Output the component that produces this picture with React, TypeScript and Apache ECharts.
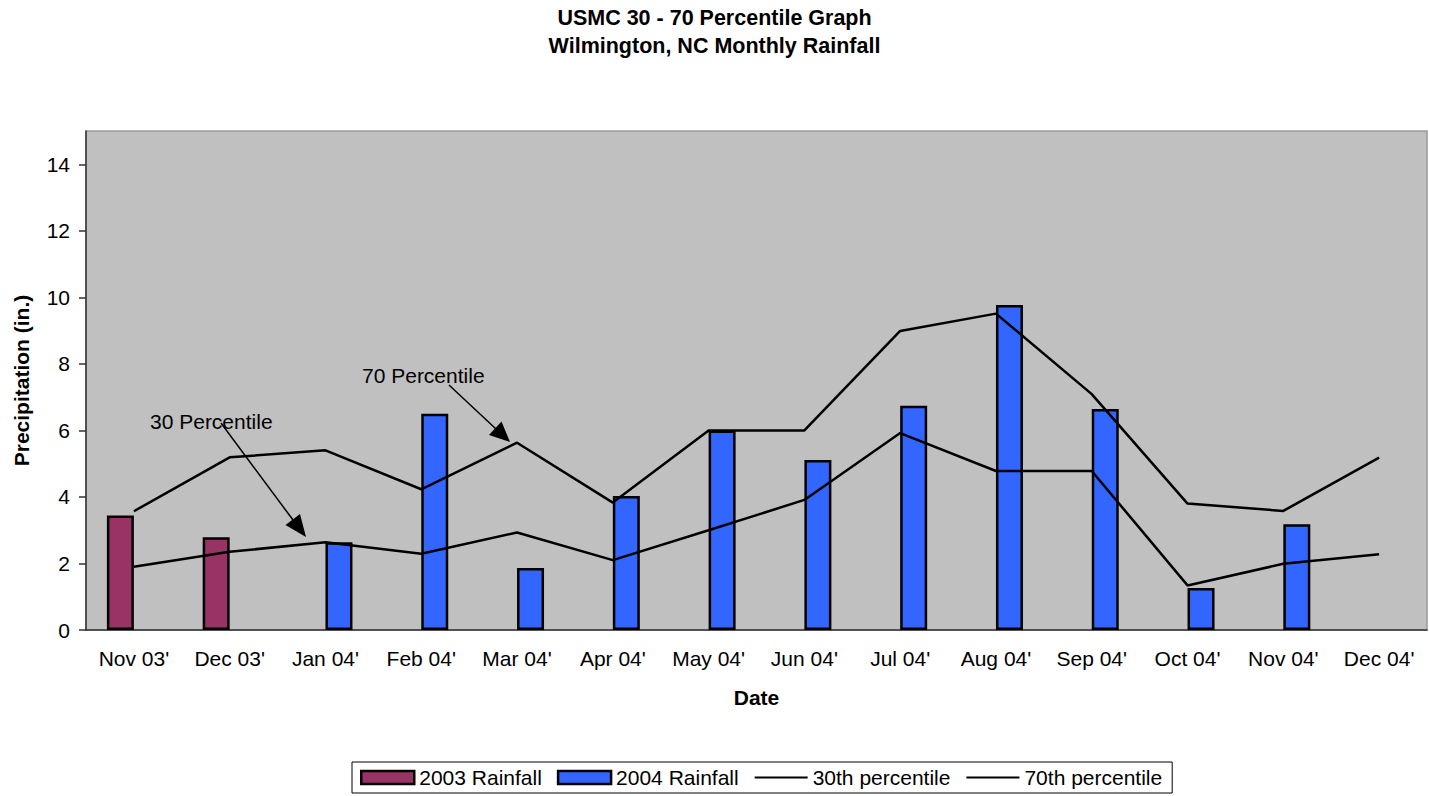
import React, { useEffect, useRef } from "react";
import * as echarts from "echarts";

const categories = [
  "Nov 03'", "Dec 03'", "Jan 04'", "Feb 04'", "Mar 04'", "Apr 04'", "May 04'",
  "Jun 04'", "Jul 04'", "Aug 04'", "Sep 04'", "Oct 04'", "Nov 04'", "Dec 04'",
];
const rain2003 = [3.44, 2.79, null, null, null, null, null, null, null, null, null, null, null, null];
const rain2004 = [null, null, 2.64, 6.5, 1.86, 4.03, 6.0, 5.11, 6.74, 9.77, 6.64, 1.26, 3.18, null];
const pct30 = [1.9, 2.35, 2.64, 2.29, 2.93, 2.1, 3.0, 3.91, 5.92, 4.78, 4.78, 1.34, 1.99, 2.28];
const pct70 = [3.57, 5.19, 5.4, 4.23, 5.63, 3.83, 6.0, 6.0, 8.99, 9.51, 7.09, 3.8, 3.58, 5.18];
const yTicks = [0, 2, 4, 6, 8, 10, 12, 14];
const yMax = 15;

const FONT = "'Liberation Sans', Arial, Helvetica, sans-serif";

export default function App() {
  const ref = useRef<HTMLDivElement | null>(null);

  useEffect(() => {
    if (!ref.current) return;
    const chart = echarts.init(ref.current, null, { renderer: "svg" });
    const arrowStyle = { stroke: "#000", lineWidth: 1.5 };
    chart.setOption({
      animation: false,
      backgroundColor: "#fff",
      textStyle: { fontFamily: FONT, color: "#000" },
      title: {
        text: "USMC 30 - 70 Percentile Graph\nWilmington, NC Monthly Rainfall",
        left: "center",
        top: 4,
        padding: 0,
        textStyle: { fontFamily: FONT, fontSize: 21.5, fontWeight: "bold", color: "#000", lineHeight: 28 },
      },
      grid: {
        left: 86,
        right: 2,
        top: 131,
        bottom: 166,
        show: true,
        backgroundColor: "#c0c0c0",
        borderColor: "#999",
        borderWidth: 1.5,
        containLabel: false,
      },
      legend: {
        left: 352,
        top: 762,
        padding: [5, 10, 5, 8],
        borderColor: "#000",
        borderWidth: 1,
        itemWidth: 53,
        itemHeight: 13,
        itemGap: 15,
        textStyle: { fontFamily: FONT, fontSize: 21, color: "#000" },
        data: [
          { name: "2003 Rainfall", icon: "rect", itemStyle: { borderWidth: 2.5, borderColor: "#000" } },
          { name: "2004 Rainfall", icon: "rect", itemStyle: { borderWidth: 2.5, borderColor: "#000" } },
          { name: "30th percentile", itemStyle: { opacity: 0 } },
          { name: "70th percentile", itemStyle: { opacity: 0 } },
        ],
      },
      xAxis: {
        type: "category",
        data: categories,
        name: "Date",
        nameLocation: "middle",
        nameGap: 57,
        nameTextStyle: { fontFamily: FONT, fontSize: 21, fontWeight: "bold", color: "#000" },
        axisLine: { lineStyle: { color: "#333", width: 1.5 } },
        axisTick: { length: 7, lineStyle: { color: "#333", width: 1.5 } },
        axisLabel: { interval: 0, fontFamily: FONT, fontSize: 21, color: "#000", margin: 18 },
        splitLine: { show: false },
      },
      yAxis: {
        type: "value",
        min: 0,
        max: yMax,
        name: "Precipitation (in.)",
        nameLocation: "middle",
        nameGap: 54,
        nameRotate: 90,
        nameTextStyle: { fontFamily: FONT, fontSize: 21, fontWeight: "bold", color: "#000" },
        axisLine: { show: true, lineStyle: { color: "#333", width: 1.5 } },
        axisTick: { show: true, length: 7, customValues: yTicks, lineStyle: { color: "#333", width: 1.5 } },
        axisLabel: { customValues: yTicks, fontFamily: FONT, fontSize: 21, color: "#000", margin: 16 },
        splitLine: { show: false },
      },
      series: [
        {
          name: "2003 Rainfall",
          type: "bar",
          data: rain2003,
          barWidth: 27,
          barGap: "0%",
          itemStyle: { color: "#993366", borderColor: "#000", borderWidth: 2.5 },
        },
        {
          name: "2004 Rainfall",
          type: "bar",
          data: rain2004,
          barWidth: 27,
          barGap: "0%",
          itemStyle: { color: "#3366ff", borderColor: "#000", borderWidth: 2.5 },
        },
        {
          name: "30th percentile",
          type: "line",
          data: pct30,
          symbol: "none",
          lineStyle: { color: "#000", width: 2.5 },
          itemStyle: { color: "#000" },
        },
        {
          name: "70th percentile",
          type: "line",
          data: pct70,
          symbol: "none",
          lineStyle: { color: "#000", width: 2.5 },
          itemStyle: { color: "#000" },
        },
      ],
      graphic: [
        {
          type: "text",
          z: 100,
          style: { text: "70 Percentile", x: 362, y: 375, font: `21px ${FONT}`, fill: "#000", verticalAlign: "middle" },
        },
        {
          type: "text",
          z: 100,
          style: { text: "30 Percentile", x: 150, y: 421, font: `21px ${FONT}`, fill: "#000", verticalAlign: "middle" },
        },
        { type: "line", z: 100, shape: { x1: 449, y1: 385, x2: 496, y2: 429 }, style: arrowStyle },
        {
          type: "polygon",
          z: 100,
          shape: { points: [[510, 442], [489, 435], [501.5, 421.5]] },
          style: { fill: "#000" },
        },
        { type: "line", z: 100, shape: { x1: 221, y1: 423, x2: 293, y2: 520 }, style: arrowStyle },
        {
          type: "polygon",
          z: 100,
          shape: { points: [[306, 537], [285.5, 525], [300, 514]] },
          style: { fill: "#000" },
        },
      ],
    });
    return () => chart.dispose();
  }, []);

  return (
    <div
      ref={ref}
      style={{ position: "absolute", left: 0, top: 0, width: 1429, height: 796, background: "#fff" }}
    />
  );
}
